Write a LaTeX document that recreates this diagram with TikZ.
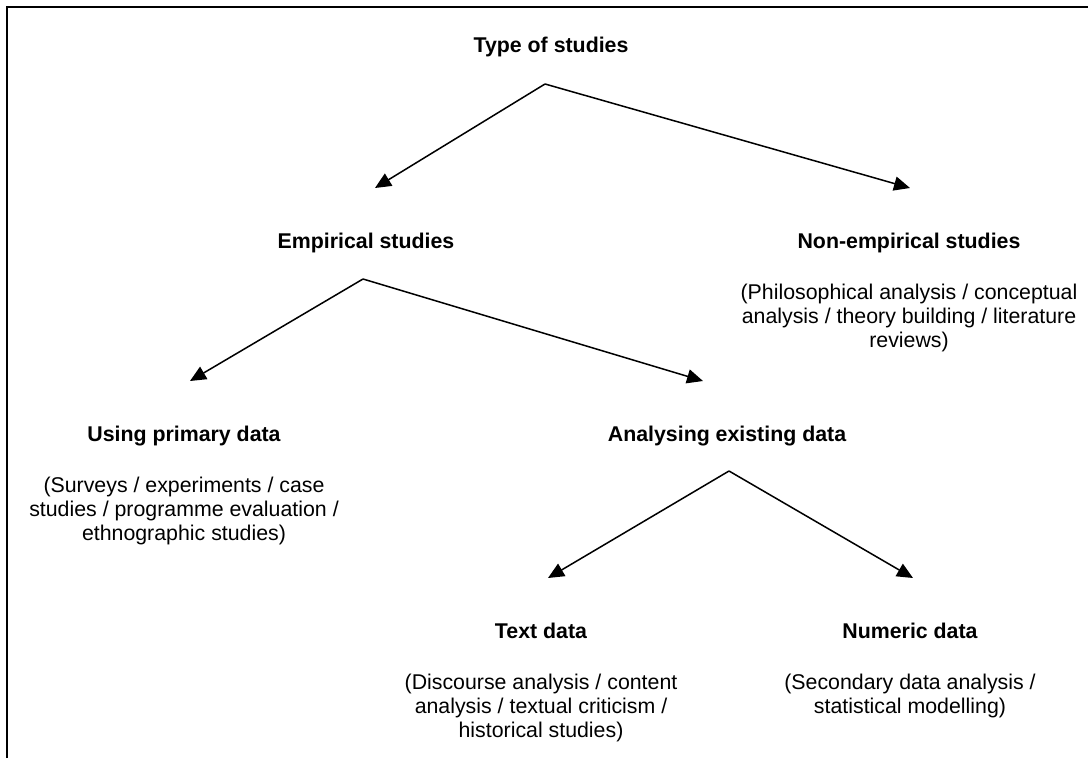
\documentclass[tikz,border=0pt]{standalone}
\usepackage{fontspec}
\setmainfont{Liberation Sans}
\usepackage{tikz}
\usetikzlibrary{arrows.meta, positioning}

\begin{document}
\begin{tikzpicture}[
    x=0.5625pt, y=-0.5625pt,
    head/.style={inner sep=0pt, anchor=base, text depth=2.5pt, font=\fontsize{12}{13.5}\selectfont\bfseries},
    desc/.style={inner sep=0pt, align=center, font=\fontsize{12}{13.5}\selectfont},
    arrow/.style={-{Triangle[length=9pt, width=8pt]}, line width=0.85pt},
    frame/.style={line width=1.2pt}
]
    \useasboundingbox (0,0) rectangle (1088,758);
    \draw[frame] (7,758) -- (7,7) -- (1088,7);

    % Headings
    \node[head] (type) at (551,53) {Type of studies};
    \node[head] (emp) at (366,248) {Empirical studies};
    \node[head] (nonemp) at (909,248) {Non-empirical studies};
    \node[head] (prim) at (184,441) {Using primary data};
    \node[head] (anal) at (727,441) {Analysing existing data};
    \node[head] (textd) at (541,638) {Text data};
    \node[head] (num) at (910,638) {Numeric data};

    % Descriptions
    \node[desc, below=17.5pt of nonemp] (nonempdesc) {(Philosophical analysis / conceptual\\analysis / theory building / literature\\reviews)};
    \node[desc, below=17.5pt of prim] (primdesc) {(Surveys / experiments / case\\studies / programme evaluation /\\ethnographic studies)};
    \node[desc, below=17.5pt of textd] (textddesc) {(Discourse analysis / content\\analysis / textual criticism /\\historical studies)};
    \node[desc, below=17.5pt of num] (numdesc) {(Secondary data analysis /\\statistical modelling)};

    % Fork points and tips
    \coordinate (typefork) at (545,84);
    \coordinate (typeleft) at (375,188);
    \coordinate (typeright) at (910,188);
    \coordinate (empfork) at (363,279);
    \coordinate (empleft) at (190,381);
    \coordinate (empright) at (703,381);
    \coordinate (analfork) at (729,471);
    \coordinate (analleft) at (548,578);
    \coordinate (analright) at (913,578);

    % Connections
    \draw[arrow] (typefork) -- (typeleft);
    \draw[arrow] (typefork) -- (typeright);
    \draw[arrow] (empfork) -- (empleft);
    \draw[arrow] (empfork) -- (empright);
    \draw[arrow] (analfork) -- (analleft);
    \draw[arrow] (analfork) -- (analright);
\end{tikzpicture}
\end{document}
